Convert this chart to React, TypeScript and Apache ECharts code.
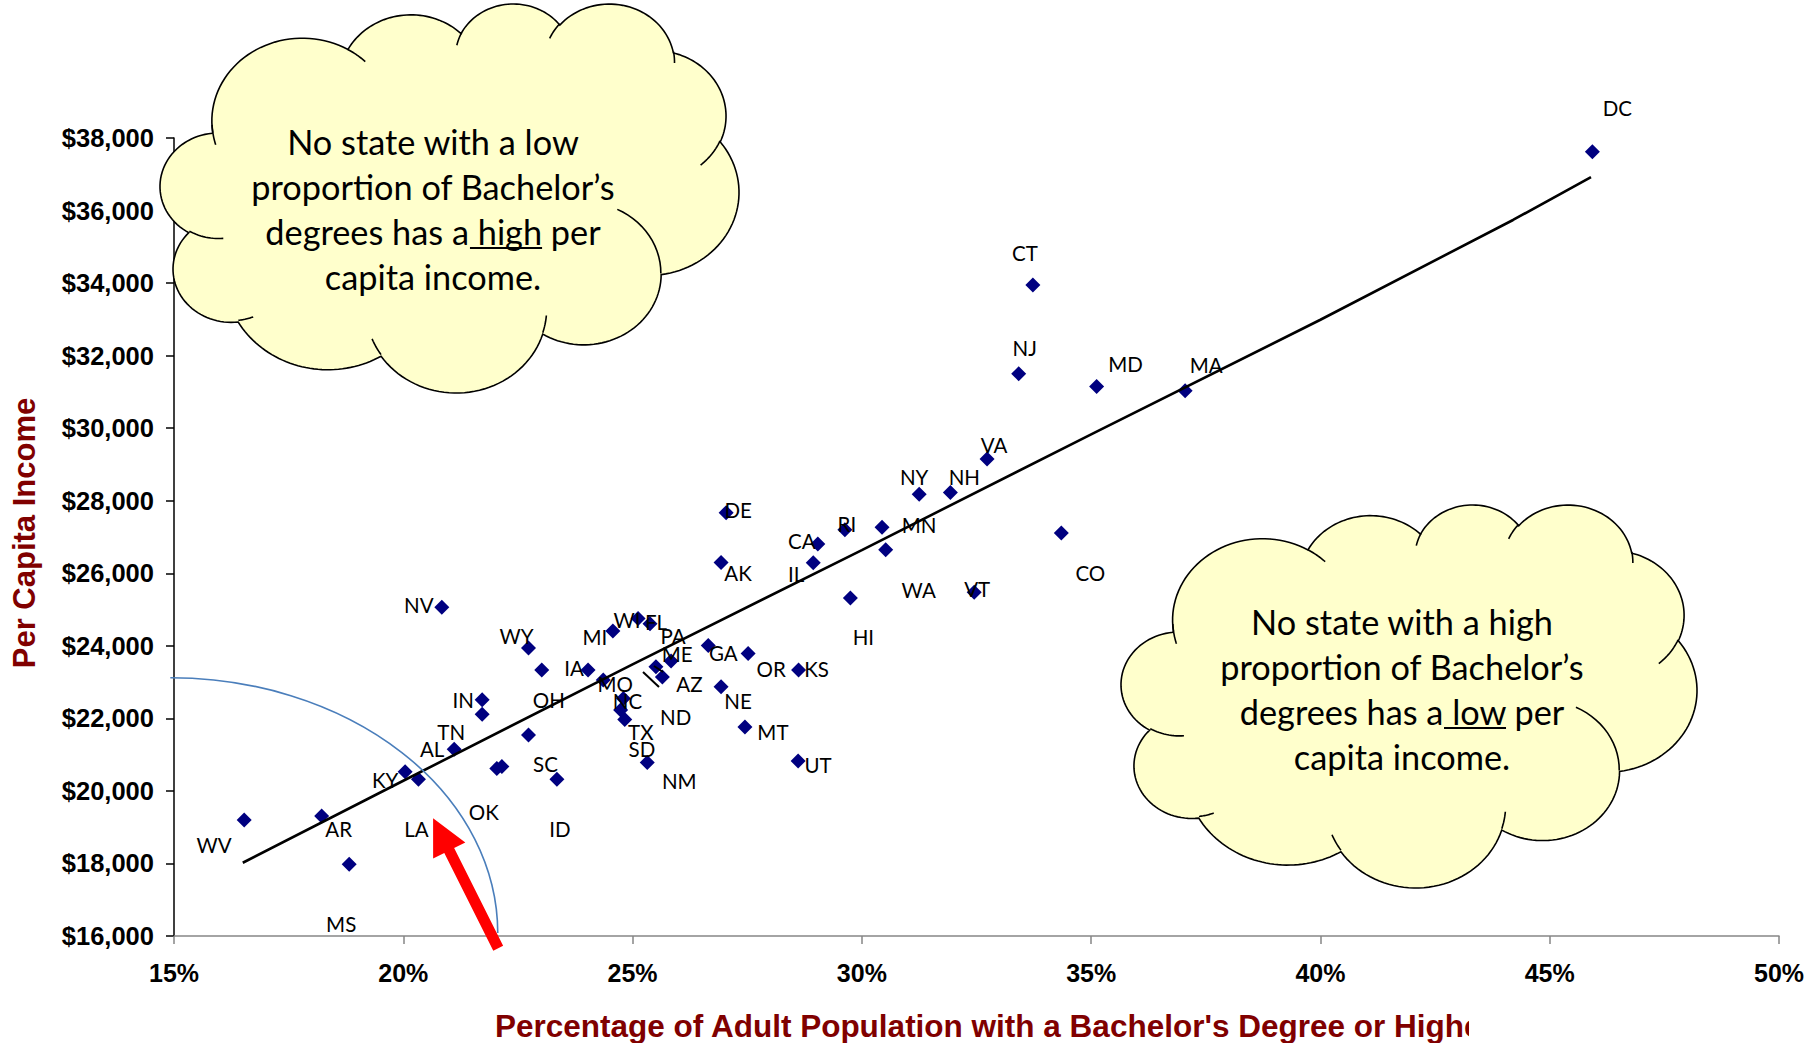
import React, { useEffect, useRef } from "react";
import * as echarts from "echarts";

// ---------------- data ----------------
const states = [
  "DC", "CT", "NJ", "MD", "MA", "VA", "NY", "NH", "CO", "MN",
  "WA", "RI", "CA", "IL", "DE", "AK", "HI", "VT", "NV", "WY",
  "MI", "WI", "FL", "GA", "OR", "KS", "ME", "PA", "AZ", "NE",
  "MT", "UT", "MO", "IA", "OH", "IN", "TN", "SC", "AL", "KY",
  "LA", "OK", "SD", "ID", "NC", "ND", "TX", "NM", "WV", "AR", "MS",
];
const bachelorPct = [
  45.93, 33.73, 33.42, 35.12, 37.05, 32.73, 31.25, 31.93, 34.35, 30.44,
  30.52, 29.63, 29.04, 28.94, 27.04, 26.93, 29.75, 32.45, 20.84, 22.73,
  24.57, 25.12, 25.38, 26.65, 27.52, 28.62, 25.84, 25.51, 25.65, 26.93,
  27.45, 28.61, 24.36, 24.03, 23.02, 21.72, 21.72, 22.73, 21.11, 20.04,
  20.33, 22.04, 22.15, 23.35, 24.8, 24.74, 24.83, 25.32, 16.53, 18.22, 18.82,
];
const perCapitaIncome = [
  37620, 33950, 31500, 31150, 31030, 29150, 28180, 28230, 27110, 27270,
  26650, 27200, 26810, 26290, 27670, 26300, 25320, 25480, 25060, 23940,
  24410, 24750, 24610, 24010, 23790, 23330, 23580, 23425, 23140, 22870,
  21760, 20825, 23060, 23330, 23330, 22510, 22110, 21540, 21150, 20530,
  20320, 20620, 20670, 20320, 22550, 22230, 21970, 20780, 19200, 19310, 17980,
];
// trend line
const trendPct = [16.5, 20, 25, 30, 35, 40, 44.2, 45.9];
const trendIncome = [18020, 20280, 23490, 26640, 29830, 32990, 35740, 36920];

const xTicks = { min: 15, max: 50, step: 5 };
const yTicks = { min: 16000, max: 38000, step: 2000 };

const cloudTextHigh = ["No state with a low", "proportion of Bachelor\u2019s", "degrees has a high per", "capita income."];
const cloudTextLow = ["No state with a high", "proportion of Bachelor\u2019s", "degrees has a low per", "capita income."];

// ---------------- layout / styles ----------------
const W = 1817;
const H = 1043;
const GRID = { left: 174, right: 38, top: 138, bottom: 107 };

// label offsets (px) relative to each point
const LABEL_OFFSETS: Record<string, [number, number]> = {
  DC: [25, -44], CT: [-8, -32], NJ: [6, -26], MD: [29, -22], MA: [21, -26],
  VA: [7, -14], NY: [-5, -17], NH: [14, -15], CO: [29, 40], MN: [37, -2],
  WA: [33, 40], RI: [2, -6], CA: [-16, -3], IL: [-17, 11], DE: [12, -3],
  AK: [17, 11], HI: [13, 39], VT: [3, -3], NV: [-23, -2], WY: [-12, -12],
  MI: [-18, 6], WI: [-11, 1], FL: [6, -2], GA: [15, 8], OR: [23, 16],
  KS: [18, -1], ME: [6, -7], PA: [17, -31], AZ: [27, 7], NE: [17, 14],
  MT: [28, 5], UT: [20, 4], MO: [12, 4], IA: [-14, -2], OH: [7, 30],
  IN: [-19, 0], TN: [-31, 18], SC: [17, 29], AL: [-22, 0], KY: [-20, 8],
  LA: [-2, 50], OK: [-13, 44], SD: [140, -18], ID: [3, 50], NC: [4, 3],
  ND: [55, 7], TX: [16, 13], NM: [32, 18], WV: [-30, 25], AR: [17, 13], MS: [-8, 60],
};

// ---------------- cloud shape (Office "cloud" preset geometry) ----------------
const CLOUD_ARCS = [
  [6753, 9190, -11429249, 7426832], [5333, 7267, -8646143, 5396714],
  [4365, 5945, -8748475, 5983381], [4857, 6595, -7859164, 7034504],
  [5333, 7273, -4722533, 6541615], [6775, 9220, -2776035, 7816140],
  [5785, 7867, 37501, 6842000], [6752, 9215, 1347096, 6910353],
  [7720, 10543, 3974558, 4542661], [4360, 5918, -16496525, 8804134],
  [4345, 5945, -14809710, 9151131],
];
const CLOUD_CREASES = [
  [4693, 26177, 4345, 5945, 5204520, 1585770], [6928, 34899, 4360, 5918, 4416628, 686848],
  [16478, 39090, 6752, 9215, 8257449, 844866], [28827, 34751, 6752, 9215, 387196, 959901],
  [34129, 22954, 5785, 7867, -4217541, 4255042], [41798, 15354, 5333, 7273, 1819082, 1665090],
  [38324, 5426, 4857, 6595, -824660, 891534], [29078, 3952, 4857, 6595, -8950887, 1091722],
  [22141, 4720, 4365, 5945, -9809656, 1061181], [14000, 5192, 6753, 9190, -4002417, 739161],
  [4127, 15789, 6753, 9190, 9489249, 1118382],
];

function arcPoints(x0: number, y0: number, wR: number, hR: number, st: number, sw: number, n: number) {
  const a0 = (st / 60000) * Math.PI / 180;
  const s = (sw / 60000) * Math.PI / 180;
  const par = (a: number) => Math.atan2(wR * Math.sin(a), hR * Math.cos(a));
  const t0 = par(a0);
  const cx = x0 - wR * Math.cos(t0);
  const cy = y0 - hR * Math.sin(t0);
  let dt = par(a0 + s) - t0;
  if (s > 0) { while (dt <= 0) dt += Math.PI * 2; } else { while (dt >= 0) dt -= Math.PI * 2; }
  const pts: number[][] = [];
  for (let i = 1; i <= n; i++) {
    const t = t0 + (dt * i) / n;
    pts.push([cx + wR * Math.cos(t), cy + hR * Math.sin(t)]);
  }
  return pts;
}

function buildCloud(box: { x0: number; y0: number; x1: number; y1: number }) {
  let cur = [3900, 14370];
  const outline: number[][] = [cur];
  for (const [wR, hR, st, sw] of CLOUD_ARCS) {
    const p = arcPoints(cur[0], cur[1], wR, hR, st, sw, 40);
    outline.push(...p);
    cur = p[p.length - 1];
  }
  const creases = CLOUD_CREASES.map(([x, y, wR, hR, st, sw]) => [[x, y], ...arcPoints(x, y, wR, hR, st, sw, 14)]);
  let minX = Infinity, minY = Infinity, maxX = -Infinity, maxY = -Infinity;
  for (const [x, y] of outline) {
    minX = Math.min(minX, x); maxX = Math.max(maxX, x);
    minY = Math.min(minY, y); maxY = Math.max(maxY, y);
  }
  const mx = (x: number) => (box.x0 + ((x - minX) / (maxX - minX)) * (box.x1 - box.x0)).toFixed(2);
  const my = (y: number) => (box.y0 + ((y - minY) / (maxY - minY)) * (box.y1 - box.y0)).toFixed(2);
  const toPath = (pts: number[][]) => pts.map((p, i) => `${i === 0 ? "M" : "L"}${mx(p[0])} ${my(p[1])}`).join(" ");
  return { outline: toPath(outline) + " Z", creases: creases.map(toPath).join(" ") };
}

const CLOUD1 = buildCloud({ x0: 160, y0: 4, x1: 739, y1: 393 });
const CLOUD2 = buildCloud({ x0: 1121, y0: 505, x1: 1697, y1: 888 });
echarts.graphic.registerShape("cloud1", echarts.graphic.extendPath(CLOUD1.outline, {}));
echarts.graphic.registerShape("cloud1c", echarts.graphic.extendPath(CLOUD1.creases, {}));
echarts.graphic.registerShape("cloud2", echarts.graphic.extendPath(CLOUD2.outline, {}));
echarts.graphic.registerShape("cloud2c", echarts.graphic.extendPath(CLOUD2.creases, {}));

const CLOUD_FONT_SIZE = 34.3;
const CLOUD_FONT = `${CLOUD_FONT_SIZE}px Lato`;
const CLOUD_LINE_H = 45;

function measure(text: string, font: string) {
  const c = document.createElement("canvas").getContext("2d");
  if (!c) return text.length * 14;
  c.font = font;
  return c.measureText(text).width;
}

function cloudTextElements(lines: string[], cx: number, firstY: number, prefix: string, word: string) {
  const els: any[] = lines.map((t, i) => ({
    type: "text",
    z: 102,
    x: cx,
    y: firstY + i * CLOUD_LINE_H,
    style: { text: t, font: CLOUD_FONT, fill: "#000", align: "center", verticalAlign: "middle" },
  }));
  const line3 = lines[2];
  const total = measure(line3, CLOUD_FONT);
  const pw = measure(prefix, CLOUD_FONT);
  const start = cx - total / 2 + pw + 1;
  const end = cx - total / 2 + measure(prefix + word, CLOUD_FONT);
  const uy = firstY + 2 * CLOUD_LINE_H + 17;
  els.push({
    type: "line",
    z: 102,
    shape: { x1: start, y1: uy, x2: end, y2: uy },
    style: { stroke: "#000", lineWidth: 2 },
  });
  return els;
}

export default function App() {
  const ref = useRef<HTMLDivElement>(null);

  useEffect(() => {
    document.body.style.margin = "0";
    if (!ref.current) return;
    const chart = echarts.init(ref.current, undefined, { renderer: "svg" });

    const points = states.map((s, i) => ({
      name: s,
      value: [bachelorPct[i], perCapitaIncome[i]],
      label: { offset: LABEL_OFFSETS[s] || [0, 0] },
    }));

    chart.setOption({
      animation: false,
      backgroundColor: "#fff",
      grid: { ...GRID, containLabel: false },
      xAxis: {
        type: "value",
        min: xTicks.min,
        max: xTicks.max,
        interval: xTicks.step,
        axisLine: { show: true, onZero: false, lineStyle: { color: "#868686", width: 1.5 } },
        axisTick: { show: true, inside: false, length: 8, lineStyle: { color: "#868686", width: 1.5 } },
        axisLabel: {
          formatter: (v: number) => `${v}%`,
          fontFamily: "Liberation Sans",
          fontWeight: "bold",
          fontSize: 25,
          color: "#000",
          margin: 24,
        },
        splitLine: { show: false },
      },
      yAxis: {
        type: "value",
        min: yTicks.min,
        max: yTicks.max,
        interval: yTicks.step,
        axisLine: { show: true, onZero: false, lineStyle: { color: "#000", width: 1.5 } },
        axisTick: { show: true, inside: false, length: 8, lineStyle: { color: "#000", width: 1.5 } },
        axisLabel: {
          formatter: (v: number) => "$" + v.toLocaleString("en-US"),
          fontFamily: "Liberation Sans",
          fontWeight: "bold",
          fontSize: 25.5,
          color: "#000",
          margin: 20,
        },
        splitLine: { show: false },
      },
      series: [
        {
          type: "scatter",
          z: 2,
          symbol: "diamond",
          symbolSize: 15,
          itemStyle: { color: "#000080", opacity: 1 },
          label: {
            show: true,
            position: "inside",
            formatter: "{b}",
            color: "#000",
            fontFamily: "Lato",
            fontSize: 20.5,
          },
          emphasis: { disabled: true },
          data: points,
        },
        {
          type: "line",
          z: 3,
          showSymbol: false,
          symbol: "none",
          silent: true,
          lineStyle: { color: "#000", width: 2.6 },
          data: trendPct.map((p, i) => [p, trendIncome[i]]),
        },
      ],
    });

    const toPx = (v: number[]) => chart.convertToPixel({ gridIndex: 0 }, v) as number[];
    // quarter ellipse around the origin
    const c = toPx([14.92, 16080]);
    const topPt = toPx([14.92, 23120]);
    const rightPt = toPx([22.06, 16080]);
    const rx = rightPt[0] - c[0];
    const ry = c[1] - topPt[1];
    echarts.graphic.registerShape(
      "qarc",
      echarts.graphic.extendPath(`M ${c[0]} ${topPt[1]} A ${rx} ${ry} 0 0 1 ${rightPt[0]} ${c[1]}`, {})
    );

    // red arrow
    const tip = toPx([20.65, 19245]);
    const tail = toPx([22.07, 15661]);
    const dx = tip[0] - tail[0];
    const dy = tip[1] - tail[1];
    const len = Math.hypot(dx, dy);
    const ux = dx / len, uy = dy / len;
    const nx = -uy, ny = ux;
    const headLen = 36, headHalf = 18, shaftHalf = 5.5;
    const neck = [tip[0] - ux * headLen, tip[1] - uy * headLen];
    const arrowPts = [
      [tail[0] + nx * shaftHalf, tail[1] + ny * shaftHalf],
      [neck[0] + nx * shaftHalf, neck[1] + ny * shaftHalf],
      [neck[0] + nx * headHalf, neck[1] + ny * headHalf],
      tip,
      [neck[0] - nx * headHalf, neck[1] - ny * headHalf],
      [neck[0] - nx * shaftHalf, neck[1] - ny * shaftHalf],
      [tail[0] - nx * shaftHalf, tail[1] - ny * shaftHalf],
    ];

    const graphics: any[] = [
      { type: "qarc", z: 50, style: { fill: "none", stroke: "#4A7EBB", lineWidth: 1.6 } },
      { type: "polygon", z: 60, shape: { points: arrowPts }, style: { fill: "#FF0000" } },
      { type: "line", z: 50, shape: { x1: 643, y1: 672, x2: 659, y2: 687 }, style: { stroke: "#000", lineWidth: 2 } },
      { type: "line", z: 50, shape: { x1: 654, y1: 666, x2: 663, y2: 672 }, style: { stroke: "#000", lineWidth: 2 } },
      { type: "cloud1", z: 100, style: { fill: "#FFFFCC", stroke: "#000", lineWidth: 1.6 } },
      { type: "cloud1c", z: 101, style: { fill: "none", stroke: "#000", lineWidth: 1.6 } },
      { type: "cloud2", z: 100, style: { fill: "#FFFFCC", stroke: "#000", lineWidth: 1.6 } },
      { type: "cloud2c", z: 101, style: { fill: "none", stroke: "#000", lineWidth: 1.6 } },
      ...cloudTextElements(cloudTextHigh, 433, 141, "degrees has a", " high"),
      ...cloudTextElements(cloudTextLow, 1402, 621, "degrees has a", " low"),
      {
        type: "text",
        z: 70,
        x: 24,
        y: 533,
        rotation: Math.PI / 2,
        style: {
          text: "Per Capita Income",
          font: "bold 31px 'Liberation Sans'",
          fill: "#800000",
          align: "center",
          verticalAlign: "middle",
        },
      },
      {
        type: "text",
        z: 70,
        x: 495,
        y: 1026,
        style: {
          text: "Percentage of Adult Population with a Bachelor's Degree or Highe",
          font: "bold 31.5px 'Liberation Sans'",
          fill: "#800000",
          align: "left",
          verticalAlign: "middle",
        },
      },
      { type: "rect", z: 71, shape: { x: 1469, y: 1000, width: 348, height: 43 }, style: { fill: "#fff" } },
    ];
    chart.setOption({ graphic: graphics });

    return () => chart.dispose();
  }, []);

  return <div ref={ref} style={{ width: W, height: H }} />;
}
